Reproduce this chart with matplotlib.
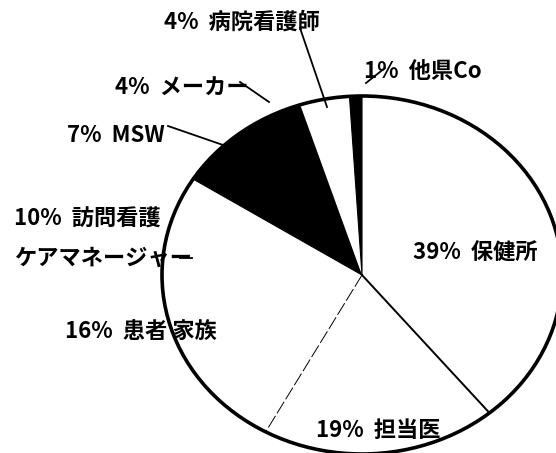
import matplotlib
matplotlib.use("Agg")
import matplotlib.pyplot as plt
import numpy as np
from matplotlib.patches import Circle

plt.rcParams['font.family'] = ['Noto Sans CJK JP', 'DejaVu Sans']

categories = ["保健所", "担当医", "患者 家族", "訪問看護\nケアマネージャー", "MSW", "メーカー", "病院看護師", "他県Co"]
percents = [39, 19, 16, 10, 7, 4, 4, 1]
fills = ["white", "white", "white", "white", "black", "black", "white", "black"]

W, H = 556, 453
fig = plt.figure(figsize=(W / 100, H / 100), dpi=100)
ax = fig.add_axes([0, 0, 1, 1])
wedges, _ = ax.pie(percents, colors=fills, startangle=90, counterclock=False, radius=1,
                   center=(0, 0), wedgeprops=dict(linewidth=0))
for w, f in zip(wedges, fills):
    if f == "black":
        w.set_edgecolor("black")
        w.set_linewidth(0.8)
ax.set_aspect('auto')
cx, cy, rx, ry = 362, 275, 200, 179
ax.set_xlim((0 - cx) / rx, (W - cx) / rx)
ax.set_ylim((cy - H) / ry, (cy - 0) / ry)
ax.axis('off')

# outline
ax.add_patch(Circle((0, 0), 1, fill=False, edgecolor='black', lw=2.6, zorder=5))

# radial boundaries
bounds = 90 - 360 * np.cumsum(percents) / 100.0
a1 = np.deg2rad(bounds[0])
ax.plot([0, np.cos(a1)], [0, np.sin(a1)], color='black', lw=1.4, zorder=4)
a2 = np.deg2rad(bounds[1])
ax.plot([0, np.cos(a2)], [0, np.sin(a2)], color='black', lw=0.7,
        linestyle=(0, (14, 3)), zorder=4)

def fx(x):
    return x / W

def fy(y):
    return 1 - y / H

FS = 16
FW = 'bold'

def label(i, x, y):
    c = categories[i].split("\n")
    fig.text(fx(x), fy(y), f"{percents[i]}%  {c[0]}", ha='left', va='center',
             fontsize=FS, fontweight=FW, color='black')
    return c

# labels
label(0, 413, 252)
label(1, 316, 430)
label(2, 65, 332)
c = label(3, 14, 219)
fig.text(fx(14), fy(258), c[1], ha='left', va='center', fontsize=FS,
         fontweight=FW, color='black')
label(4, 67, 135)
label(5, 115, 88)
label(6, 164, 22)
label(7, 364, 72)

# leader lines (figure pixel positions)
def seg(x0, y0, x1, y1, lw=1.3):
    fig.add_artist(plt.Line2D([fx(x0), fx(x1)], [fy(y0), fy(y1)], color='black', lw=lw))

seg(300, 28, 327, 107)
seg(240, 82, 269, 102)
seg(168, 126, 223, 145)
seg(366, 83, 385, 68)
seg(180, 258, 192, 258)

fig.savefig("out.png", dpi=100)
